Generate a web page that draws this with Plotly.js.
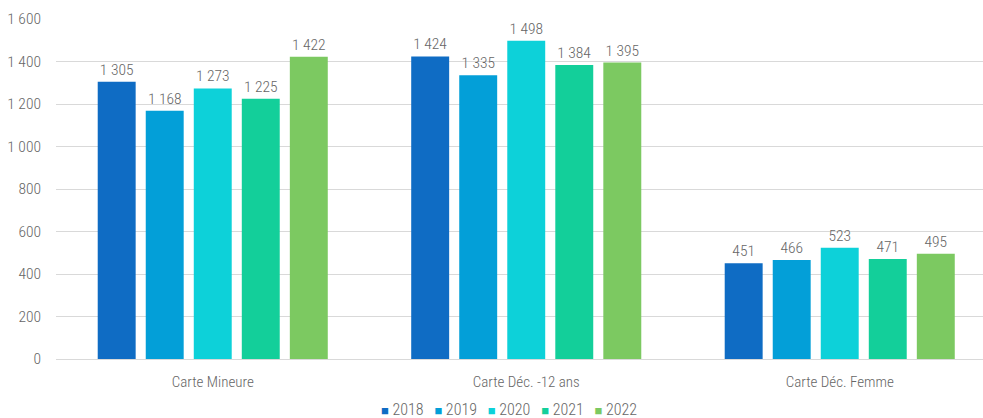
<!DOCTYPE html>
<html>
<head>
<meta charset="utf-8">
<script src="https://cdn.plot.ly/plotly-3.0.1.min.js"></script>
<style>html,body{margin:0;padding:0;background:#fff}#chart{width:983px;height:418px}</style>
</head>
<body>
<div id="chart"></div>
<script>
var categories = ["Carte Mineure", "Carte Déc. -12 ans", "Carte Déc. Femme"];
var years = ["2018", "2019", "2020", "2021", "2022"];
var v2018 = [1305, 1424, 451];
var v2019 = [1168, 1335, 466];
var v2020 = [1273, 1498, 523];
var v2021 = [1225, 1384, 471];
var v2022 = [1422, 1395, 495];
var seriesValues = [v2018, v2019, v2020, v2021, v2022];
var colors = ["#0F6CC4", "#039FD8", "#0DD1D9", "#13CF9A", "#7CC961"];
var FONT = "'Roboto Condensed', 'Liberation Sans Narrow', 'Arial Narrow', Roboto, sans-serif";
var TXT = "#666666";

var traces = years.map(function (y, i) {
  return {
    type: "bar",
    name: y,
    x: categories,
    y: seriesValues[i],
    marker: {color: colors[i]},
    texttemplate: "%{y:,d}",
    textposition: "outside",
    cliponaxis: false,
    textfont: {family: FONT, size: 15.5, color: TXT, weight: 300},
    hoverinfo: "skip",
    showlegend: false
  };
});

// legend built from the series names and colours
var legendText = years.map(function (y, i) {
  return '<span style="color:' + colors[i] + ';font-size:13px">\u25A0</span>&nbsp;' + y;
}).join('&nbsp;&nbsp;&nbsp;');

var layout = {
  width: 983, height: 418,
  margin: {l: 56, r: 0, t: 19, b: 59, autoexpand: false},
  separators: ", ",
  barmode: "group",
  bargap: 0.234,
  bargroupgap: 0.21,
  paper_bgcolor: "#fff",
  plot_bgcolor: "#fff",
  font: {family: FONT, size: 15.5, color: TXT, weight: 300},
  xaxis: {
    range: [-0.5, 2.457],
    showgrid: false,
    showline: false,
    ticks: "",
    ticklabelstandoff: 12,
    automargin: false,
    tickfont: {family: FONT, size: 15, color: TXT, weight: 300},
    fixedrange: true
  },
  yaxis: {
    range: [0, 1600],
    dtick: 200,
    tickformat: ",d",
    gridcolor: "#D9D9D9",
    gridwidth: 1,
    zeroline: true,
    zerolinecolor: "#D9D9D9",
    zerolinewidth: 1,
    ticks: "",
    automargin: false,
    ticklabelstandoff: 14,
    tickfont: {family: FONT, size: 15.5, color: TXT, weight: 300},
    fixedrange: true
  },
  showlegend: false,
  annotations: [{
    xref: "paper", yref: "paper",
    x: 0.4887, y: -0.15,
    xanchor: "center", yanchor: "middle",
    showarrow: false,
    text: legendText,
    font: {family: FONT, size: 16, color: TXT, weight: 300}
  }]
};

Plotly.newPlot("chart", traces, layout, {displayModeBar: false, staticPlot: true});
</script>
</body>
</html>
